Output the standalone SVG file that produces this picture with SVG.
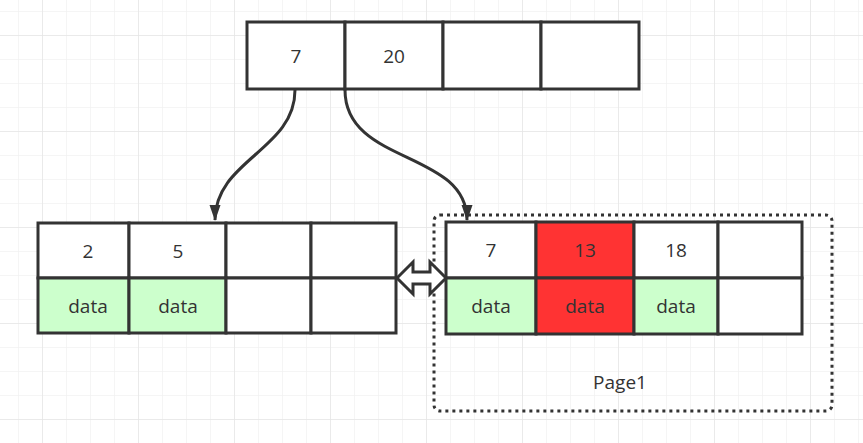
<svg xmlns="http://www.w3.org/2000/svg" width="863" height="443" viewBox="0 0 863 443">
<defs>
<pattern id="minor" x="18" y="11" width="24" height="24" patternUnits="userSpaceOnUse">
<path d="M0,0 H24 M0,0 V24" fill="none" stroke="#f2f2f2" stroke-width="1.5"/>
</pattern>
<pattern id="major" x="42" y="35" width="96" height="96" patternUnits="userSpaceOnUse">
<path d="M0,0 H96 M0,0 V96" fill="none" stroke="#e6e6e6" stroke-width="1.5"/>
</pattern>
<marker id="ah" viewBox="0 0 16 14" refX="15" refY="7" markerWidth="16" markerHeight="14" markerUnits="userSpaceOnUse" orient="auto">
<path d="M0,1.5 L16,7 L0,12.5 Z" fill="#333"/>
</marker>
<style>
.c{stroke:#333;stroke-width:3;fill:#fff}
.g{fill:#ccffcc}
.r{fill:#ff3333}
text{font-family:"Open Sans","Noto Sans","DejaVu Sans",sans-serif;font-size:19px;fill:#333;text-anchor:middle;dominant-baseline:central}
.conn{fill:none;stroke:#333;stroke-width:3}
</style>
</defs>
<rect width="863" height="443" fill="#fff"/>
<rect width="863" height="443" fill="url(#minor)"/>
<rect width="863" height="443" fill="url(#major)"/>

<g id="page1">
<rect x="434" y="215" width="398" height="196" rx="6" fill="none" stroke="#333" stroke-width="3" stroke-dasharray="3 4"/>
<text x="620" y="382">Page1</text>
</g>

<g id="root">
<rect class="c" x="247" y="22" width="98" height="67"/>
<rect class="c" x="345" y="22" width="98" height="67"/>
<rect class="c" x="443" y="22" width="98" height="67"/>
<rect class="c" x="541" y="22" width="98" height="67"/>
<text x="296" y="56">7</text>
<text x="394" y="56">20</text>
</g>

<g id="leaf-left">
<rect class="c" x="38" y="223" width="91" height="55"/>
<rect class="c" x="129" y="223" width="97" height="55"/>
<rect class="c" x="226" y="223" width="85" height="55"/>
<rect class="c" x="311" y="223" width="85" height="55"/>
<rect class="c g" x="38" y="278" width="91" height="55"/>
<rect class="c g" x="129" y="278" width="97" height="55"/>
<rect class="c" x="226" y="278" width="85" height="55"/>
<rect class="c" x="311" y="278" width="85" height="55"/>
<text x="88" y="251">2</text>
<text x="178" y="251">5</text>
<text x="88" y="306">data</text>
<text x="178" y="306">data</text>
</g>

<g id="leaf-right">
<rect class="c" x="446" y="222" width="90" height="56"/>
<rect class="c r" x="536" y="222" width="98" height="56"/>
<rect class="c" x="634" y="222" width="84" height="56"/>
<rect class="c" x="718" y="222" width="84" height="56"/>
<rect class="c g" x="446" y="278" width="90" height="56"/>
<rect class="c r" x="536" y="278" width="98" height="56"/>
<rect class="c g" x="634" y="278" width="84" height="56"/>
<rect class="c" x="718" y="278" width="84" height="56"/>
<text x="491" y="250">7</text>
<text x="585" y="250">13</text>
<text x="676" y="250">18</text>
<text x="491" y="306">data</text>
<text x="585" y="306">data</text>
<text x="676" y="306">data</text>
</g>

<g id="connectors">
<path class="conn" d="M295,90 C295,150 215,160 215,220" marker-end="url(#ah)"/>
<path class="conn" d="M345,90 C345,165 467,150 467,220" marker-end="url(#ah)"/>
<path d="M397,278 L413,262 L413,272 L430,272 L430,262 L446,278 L430,294 L430,284 L413,284 L413,294 Z" fill="#fff" stroke="#333" stroke-width="3" stroke-linejoin="miter"/>
</g>
</svg>
